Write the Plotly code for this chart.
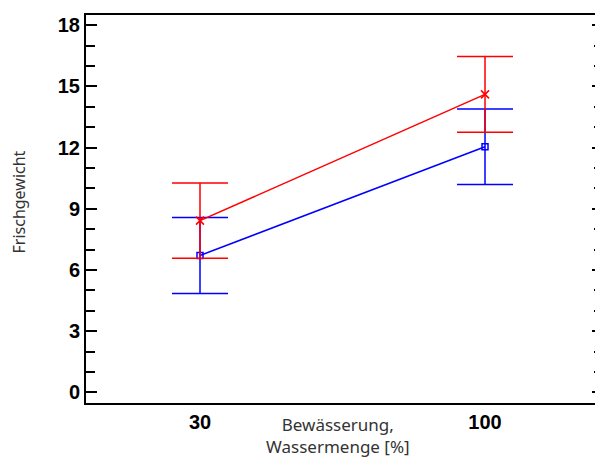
import plotly.graph_objects as go

categories = ["30", "100"]
blue_mean = [6.71, 12.04]
blue_err = [1.86, 1.85]
red_mean = [8.42, 14.61]
red_err = [1.84, 1.86]

y_tickvals = [0, 3, 6, 9, 12, 15, 18]

# page body has an 8px offset in the browser; compensate in figure size/margins
W, H = 595, 449
ML, MR, MT, MB = 78, 0, 7, 54
PW, PH = W - ML - MR, H - MT - MB


def px_to_paper(xw, yw):
    xf, yf = xw - 8, yw - 8
    return (xf - ML) / PW, (H - MB - yf) / PH


fig = go.Figure()
fig.add_trace(go.Scatter(
    x=categories, y=blue_mean, mode="lines+markers",
    line=dict(color="#0000ff", width=1.5),
    marker=dict(symbol="square-open", size=6, color="#0000ff", line=dict(width=1.5, color="#0000ff")),
    error_y=dict(type="data", array=blue_err, color="#0000ff", thickness=1.5, width=28),
    showlegend=False,
))
fig.add_trace(go.Scatter(
    x=categories, y=red_mean, mode="lines+markers",
    line=dict(color="#ff0000", width=1.5),
    marker=dict(symbol="x-thin-open", size=8, color="#ff0000", line=dict(width=1.5, color="#ff0000")),
    error_y=dict(type="data", array=red_err, color="#ff0000", thickness=1.5, width=28),
    showlegend=False,
))

yx, yy = px_to_paper(19, 202.5)
xx, xy = px_to_paper(338, 435.5)

fig.update_layout(
    width=W, height=H,
    margin=dict(l=ML, r=MR, t=MT, b=MB, autoexpand=False),
    plot_bgcolor="white", paper_bgcolor="white",
    xaxis=dict(
        type="category", range=[-0.4, 1.414],
        showline=True, linecolor="black", linewidth=2, mirror=True,
        showgrid=False, zeroline=False, ticks="",
        tickfont=dict(family="Liberation Sans, Arial", size=20, color="black", weight="bold"),
    ),
    yaxis=dict(
        range=[-0.52, 18.5],
        tickvals=y_tickvals,
        showline=True, linecolor="black", linewidth=2, mirror="ticks",
        showgrid=False, zeroline=False,
        ticks="inside", ticklen=11, tickwidth=2, tickcolor="black",
        minor=dict(dtick=1, ticks="inside", ticklen=9, tickwidth=2, tickcolor="black", showgrid=False),
        tickfont=dict(family="Liberation Sans, Arial", size=20, color="black", weight="bold"),
        ticklabelstandoff=0,
    ),
    annotations=[
        dict(text="Frischgewicht", x=yx, y=yy, xref="paper", yref="paper", showarrow=False,
             textangle=-90, xanchor="center", yanchor="middle",
             font=dict(family="Noto Sans", size=16, color="#333333")),
        dict(text="Bewässerung,<br>Wassermenge [%]", x=xx, y=xy, xref="paper", yref="paper",
             showarrow=False, xanchor="center", yanchor="middle",
             font=dict(family="Noto Sans", size=17, color="#333333")),
    ],
)

fig.write_html("out.html")
